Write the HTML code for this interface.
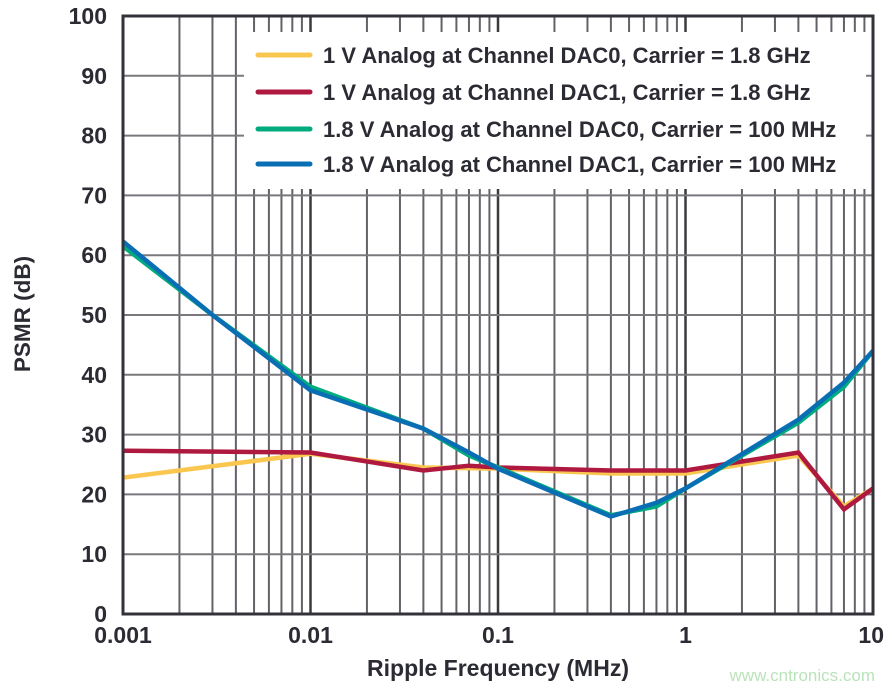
<!DOCTYPE html>
<html><head><meta charset="utf-8"><style>
body{margin:0;background:#fff;}
svg text{font-family:"Liberation Sans",sans-serif;font-weight:bold;fill:#2b2b33;}
</style></head><body>
<svg id="s" width="894" height="689" xmlns="http://www.w3.org/2000/svg"></svg>
<script>
const L=123,R=873,T=16,B=614;
const X=f=>L+(Math.log10(f)+3)*(R-L)/4;
const Y=v=>B-v*(B-T)/100;
let h='';
for(let d=-3;d<1;d++){for(let m=1;m<10;m++){const x=X(m*Math.pow(10,d));if(m==1)continue;
h+=`<line x1="${x}" y1="${T}" x2="${x}" y2="${B}" stroke="#646268" stroke-width="2"/>`;}
if(d>-3)h+=`<line x1="${X(Math.pow(10,d))}" y1="${T}" x2="${X(Math.pow(10,d))}" y2="${B}" stroke="#3a393f" stroke-width="2.5"/>`;}
for(let v=10;v<100;v+=10)h+=`<line x1="${L}" y1="${Y(v)}" x2="${R}" y2="${Y(v)}" stroke="#7a787d" stroke-width="2"/>`;
h+=`<rect x="244" y="32" width="622" height="157" fill="#fff"/>`;
const series=[
["#f9c74f",[[0.001,22.8],[0.01,26.8],[0.04,24.5],[0.1,24.3],[0.4,23.5],[1,23.5],[4,26.5],[7,18],[10,21]]],
["#b0193f",[[0.001,27.3],[0.01,27],[0.04,24],[0.07,24.8],[0.1,24.5],[0.4,24],[1,24],[2,25.5],[4,27],[7,17.5],[10,21]]],
["#00ab7e",[[0.001,61.5],[0.003,50],[0.01,38],[0.04,31],[0.07,26.5],[0.1,24.5],[0.4,16.5],[0.7,18],[1,21],[4,32],[7,38],[10,44]]],
["#0a6eb5",[[0.001,62.3],[0.003,50],[0.01,37.4],[0.04,31],[0.07,27],[0.1,24.3],[0.4,16.3],[0.7,18.6],[1,21],[4,32.5],[7,38.7],[10,44]]]];
for(const [c,p] of series)h+=`<polyline fill="none" stroke="${c}" stroke-width="4.5" stroke-linejoin="miter" points="${p.map(q=>X(q[0])+','+Y(q[1])).join(' ')}"/>`;
h+=`<rect x="${L}" y="${T}" width="${R-L}" height="${B-T}" fill="none" stroke="#333238" stroke-width="3"/>`;
const lt=["1 V Analog at Channel DAC0, Carrier = 1.8 GHz","1 V Analog at Channel DAC1, Carrier = 1.8 GHz","1.8 V Analog at Channel DAC0, Carrier = 100 MHz","1.8 V Analog at Channel DAC1, Carrier = 100 MHz"];
const ly=[55,92,129,164];
for(let i=0;i<4;i++){h+=`<line x1="258" y1="${ly[i]}" x2="310" y2="${ly[i]}" stroke="${series[i][0]}" stroke-width="5" stroke-linecap="round"/>`;
h+=`<text x="323" y="${ly[i]+8}" font-size="22">${lt[i]}</text>`;}
for(let v=0;v<=100;v+=10)h+=`<text x="107" y="${Y(v)+8}" font-size="23" text-anchor="end">${v}</text>`;
const xl=[["0.001",0.001],["0.01",0.01],["0.1",0.1],["1",1],["10",10]];
for(const [t,f] of xl){let x=X(f);let a='middle';if(f==10){x=884;a='end';}h+=`<text x="${x}" y="643" font-size="23" text-anchor="${a}">${t}</text>`;}
h+=`<text x="498" y="676" font-size="23" text-anchor="middle">Ripple Frequency (MHz)</text>`;
h+=`<text transform="translate(30,314) rotate(-90)" font-size="22.5" text-anchor="middle">PSMR (dB)</text>`;
h+=`<text x="875" y="681" font-size="17" text-anchor="end" style="font-weight:normal;fill:#b9e3b9">www.cntronics.com</text>`;
document.getElementById('s').innerHTML=h;
</script>
</body></html>
